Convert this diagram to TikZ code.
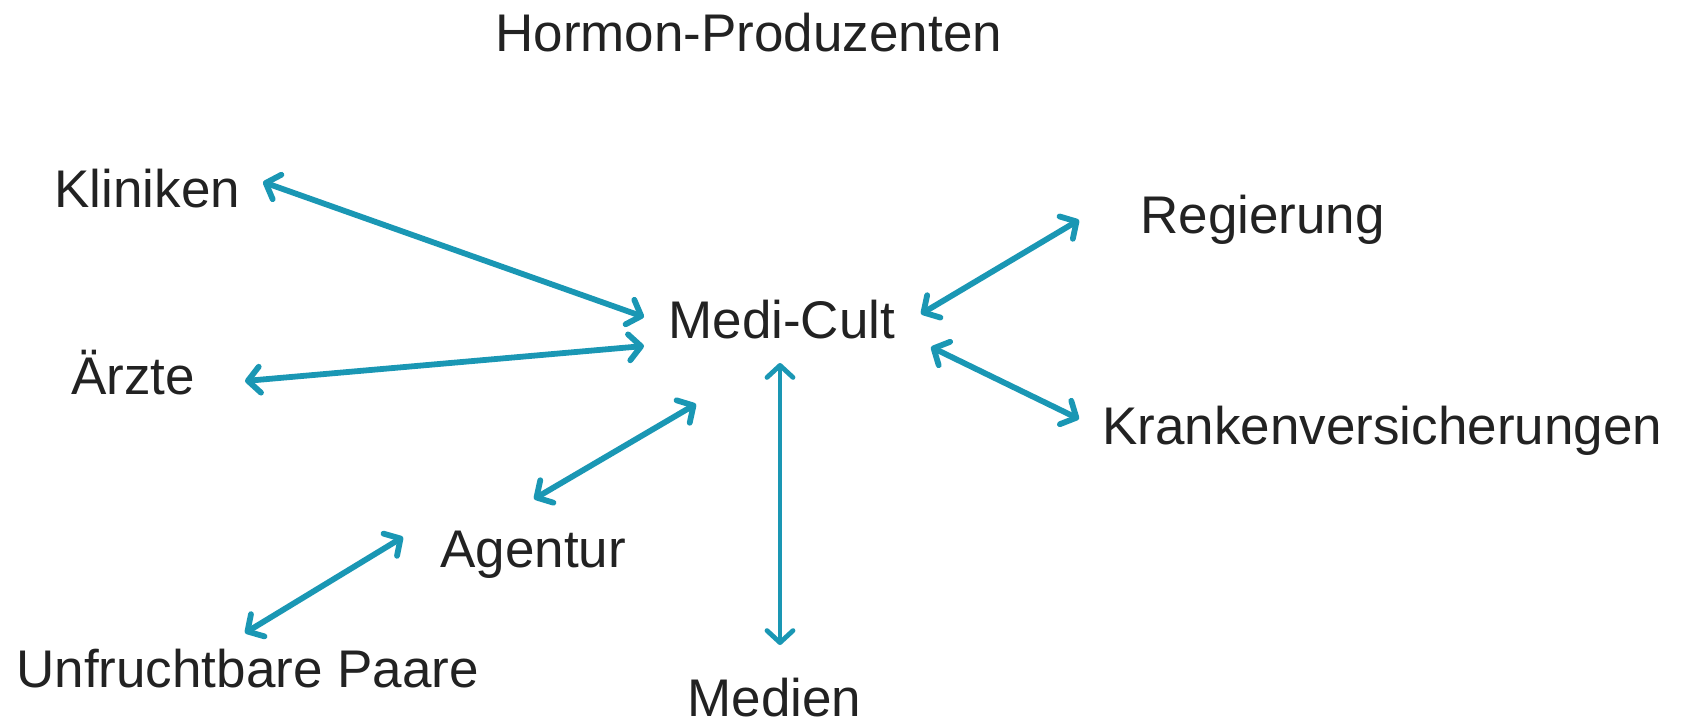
\documentclass[tikz,border=0pt]{standalone}
\usepackage{fontspec}
\setmainfont{Liberation Sans}
\usetikzlibrary{arrows.meta}
\definecolor{teal1}{HTML}{1A97B4}
\definecolor{txt}{HTML}{222222}
\begin{document}
\begin{tikzpicture}[x=0.5pt,y=-0.5pt,
  lbl/.style={anchor=base west,inner sep=0pt,font=\fontsize{26.5pt}{30pt}\selectfont,text=txt},
  link/.style={draw=teal1,line width=2.9pt,{Straight Barb[length=6pt,width=13pt,round]}-{Straight Barb[length=6pt,width=13pt,round]}}]
\useasboundingbox (0,0) rectangle (1683,719);
\node[lbl] (title) at (495,51) {Hormon-Produzenten};
\node[lbl] (klin) at (54,207) {Kliniken};
\node[lbl] (reg) at (1140,233) {Regierung};
\node[lbl] (medi) at (668,338) {Medi-Cult};
\node[lbl] (aerz) at (71,394) {Ärzte};
\node[lbl] (kran) at (1102,444) {Krankenversicherungen};
\node[lbl] (agen) at (440,567) {Agentur};
\node[lbl] (paar) at (16,687) {Unfruchtbare Paare};
\node[lbl] (medn) at (687,716) {Medien};
% arrow end points
\coordinate (k1) at (263,182);  \coordinate (k2) at (644,317);
\coordinate (a1) at (245,381);  \coordinate (a2) at (644,346);
\coordinate (g1) at (534,499);  \coordinate (g2) at (696,404);
\coordinate (m1) at (780,363);  \coordinate (m2) at (780,645);
\coordinate (r1) at (1079,220); \coordinate (r2) at (921,314);
\coordinate (v1) at (931,347);  \coordinate (v2) at (1079,419);
\coordinate (p1) at (245,633);  \coordinate (p2) at (403,537);
\draw[link] (k1) -- (k2);
\draw[link] (a1) -- (a2);
\draw[link] (g1) -- (g2);
\draw[link,line width=2.4pt] (m1) -- (m2);
\draw[link] (r1) -- (r2);
\draw[link] (v1) -- (v2);
\draw[link] (p1) -- (p2);
\end{tikzpicture}
\end{document}
